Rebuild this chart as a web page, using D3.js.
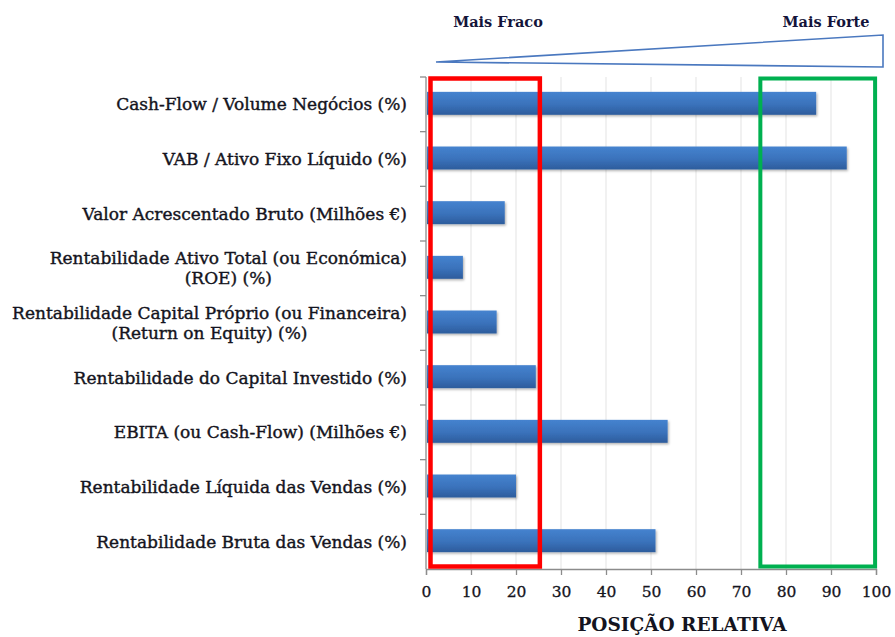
<!DOCTYPE html>
<html>
<head>
<meta charset="utf-8">
<script src="https://cdn.jsdelivr.net/npm/d3@7"></script>
<style>
  html, body { margin: 0; padding: 0; background: #fff; }
  svg { display: block; }
</style>
</head>
<body>
<svg id="chart" width="895" height="637"></svg>
<script>
// Indicators (top to bottom) and their relative position (0–100)
const categories = [
  "Cash-Flow / Volume Negócios (%)",
  "VAB / Ativo Fixo Líquido (%)",
  "Valor Acrescentado Bruto (Milhões €)",
  "Rentabilidade Ativo Total (ou Económica)\n(ROE) (%)",
  "Rentabilidade Capital Próprio (ou Financeira)\n(Return on Equity) (%)",
  "Rentabilidade do Capital Investido (%)",
  "EBITA (ou Cash-Flow) (Milhões €)",
  "Rentabilidade Líquida das Vendas (%)",
  "Rentabilidade Bruta das Vendas (%)"
];
const values = [86.7, 93.5, 17.5, 8.2, 15.7, 24.4, 53.7, 20.0, 51.0];
const xTicks = [0, 10, 20, 30, 40, 50, 60, 70, 80, 90, 100];
// Highlighted zones on the position scale
const weakZone = [1, 25.3];
const strongZone = [74.3, 99.8];
const weakLabel = "Mais Fraco";
const strongLabel = "Mais Forte";
const axisTitle = "POSIÇÃO RELATIVA";

const svg = d3.select("#chart");
const margin = { top: 77, left: 426, right: 19, bottom: 68 };
const W = 895, H = 637;

const x = d3.scaleLinear().domain([0, 100]).range([margin.left, W - margin.right]);
const y = d3.scaleBand().domain(categories)
  .range([margin.top, H - margin.bottom])
  .paddingInner(0.58).paddingOuter(0.29);

const defs = svg.append("defs");
const grad = defs.append("linearGradient").attr("id", "barGrad")
  .attr("x1", 0).attr("y1", 0).attr("x2", 0).attr("y2", 1);
grad.append("stop").attr("offset", "0%").attr("stop-color", "#4583cf");
grad.append("stop").attr("offset", "55%").attr("stop-color", "#3a72bb");
grad.append("stop").attr("offset", "100%").attr("stop-color", "#2d5c9c");
const shadow = defs.append("filter").attr("id", "barShadow")
  .attr("x", "-5%").attr("y", "-20%").attr("width", "115%").attr("height", "160%");
shadow.append("feDropShadow").attr("dx", 1.2).attr("dy", 1.5)
  .attr("stdDeviation", 1.2).attr("flood-color", "#000").attr("flood-opacity", 0.3);

const y0 = margin.top, y1 = H - margin.bottom;

// vertical gridlines
svg.append("g").selectAll("line")
  .data(xTicks.filter(d => d > 0))
  .join("line")
  .attr("x1", d => x(d)).attr("x2", d => x(d))
  .attr("y1", y0).attr("y2", y1)
  .attr("stroke", "#e3e3e3").attr("stroke-width", 1);

// bars
svg.append("g").selectAll("rect")
  .data(categories.map((c, i) => ({ c, v: values[i] })))
  .join("rect")
  .attr("x", x(0) + 1)
  .attr("y", d => y(d.c) - 1)
  .attr("width", d => x(d.v) - x(0) - 1)
  .attr("height", y.bandwidth())
  .attr("fill", "url(#barGrad)")
  .attr("filter", "url(#barShadow)");

// x axis
const xAxis = svg.append("g")
  .attr("transform", `translate(0,${y1})`)
  .call(d3.axisBottom(x).tickValues(xTicks).tickSize(6).tickPadding(11));
xAxis.select(".domain").attr("stroke", "#8c8c8c").attr("stroke-width", 1.3);
xAxis.selectAll(".tick line").attr("stroke", "#8c8c8c").attr("stroke-width", 1.3);
xAxis.selectAll(".tick text")
  .attr("font-family", "'DejaVu Serif', serif")
  .attr("font-size", 15.5)
  .attr("fill", "#141420")
  .attr("stroke", "#141420").attr("stroke-width", 0.3);

// y axis line + category separators
const step = y.step();
const bounds = d3.range(categories.length + 1).map(i => y0 + i * step);
svg.append("line")
  .attr("x1", x(0)).attr("x2", x(0)).attr("y1", y0).attr("y2", y1)
  .attr("stroke", "#8c8c8c").attr("stroke-width", 1.3);
svg.append("g").selectAll("line")
  .data(bounds.slice(0, -1))
  .join("line")
  .attr("x1", x(0) - 6).attr("x2", x(0))
  .attr("y1", d => d).attr("y2", d => d)
  .attr("stroke", "#8c8c8c").attr("stroke-width", 1.3);

// category labels (multi-line labels are centred as a block, right aligned)
const labelRight = x(0) - 19;
const lineH = 20;
const labels = svg.append("g")
  .attr("font-family", "'DejaVu Serif', serif")
  .attr("font-size", 17)
  .attr("fill", "#141420")
  .attr("stroke", "#141420").attr("stroke-width", 0.4);
categories.forEach(c => {
  const lines = c.split("\n");
  const cy = y(c) + y.bandwidth() / 2;
  const t = labels.append("text").attr("text-anchor", "middle");
  lines.forEach((ln, i) => {
    t.append("tspan")
      .attr("y", cy + (i - (lines.length - 1) / 2) * lineH)
      .attr("dy", "0.35em")
      .text(ln);
  });
  const widths = t.selectAll("tspan").nodes().map(n => n.getComputedTextLength());
  const maxW = d3.max(widths);
  t.selectAll("tspan").attr("x", labelRight - maxW / 2);
});

// axis title
svg.append("text")
  .attr("x", (x(0) + x(100)) / 2 + 31)
  .attr("y", 631)
  .attr("text-anchor", "middle")
  .attr("font-family", "'DejaVu Serif', serif")
  .attr("font-weight", "bold")
  .attr("font-size", 18.5)
  .attr("fill", "#141420")
  .text(axisTitle);

// weak / strong zone frames
svg.append("rect")
  .attr("x", x(weakZone[0])).attr("y", y0 + 1.5)
  .attr("width", x(weakZone[1]) - x(weakZone[0]))
  .attr("height", y1 - y0 - 4)
  .attr("fill", "none").attr("stroke", "#ff0000").attr("stroke-width", 4.5);
svg.append("rect")
  .attr("x", x(strongZone[0])).attr("y", y0 + 1.5)
  .attr("width", x(strongZone[1]) - x(strongZone[0]))
  .attr("height", y1 - y0 - 4)
  .attr("fill", "none").attr("stroke", "#00b050").attr("stroke-width", 4);

// strength wedge above the plot
const wx0 = x(0) + 10, wx1 = x(100) + 7;
svg.append("path")
  .attr("d", `M${wx0},62 L${wx1},35 L${wx1},67 Z`)
  .attr("fill", "none")
  .attr("stroke", "#4a78bf")
  .attr("stroke-width", 1.6)
  .attr("stroke-linejoin", "miter");

const hdr = svg.append("g")
  .attr("font-family", "'DejaVu Serif', serif")
  .attr("font-weight", "bold")
  .attr("font-size", 14.5)
  .attr("fill", "#14143a");
hdr.append("text").attr("x", 498).attr("y", 27).attr("text-anchor", "middle").text(weakLabel);
hdr.append("text").attr("x", 826).attr("y", 27).attr("text-anchor", "middle").text(strongLabel);
</script>
</body>
</html>
